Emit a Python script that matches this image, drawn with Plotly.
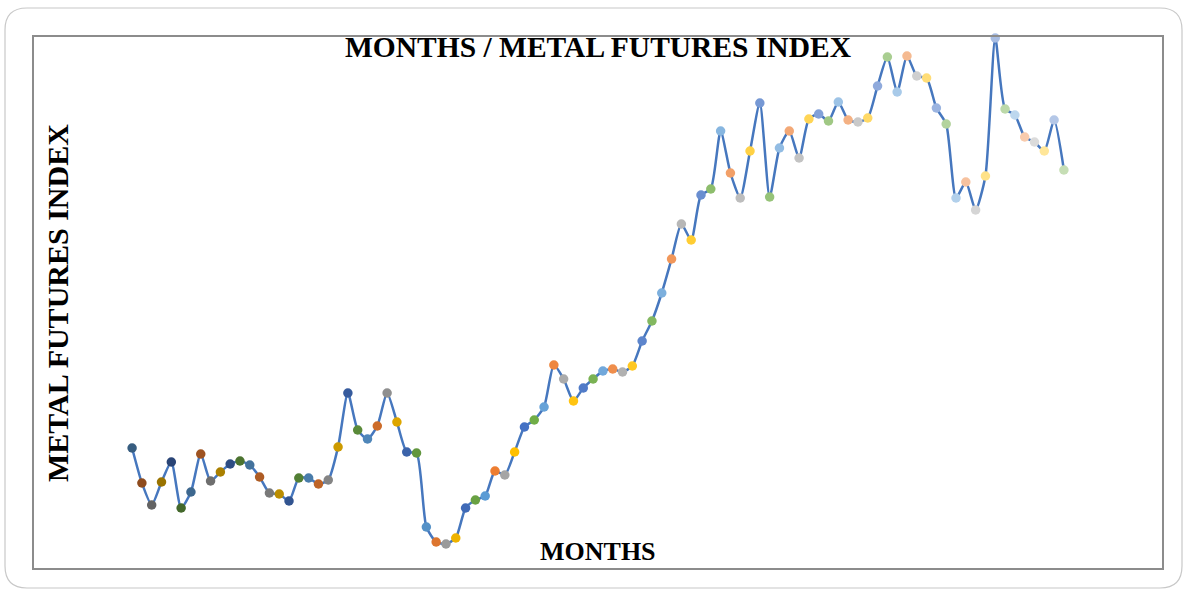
import plotly.graph_objects as go

# ---- data ----
months = list(range(1, 97))
index_values = [
    152, 117, 95, 118, 138, 92, 108, 146, 119, 128,
    136, 139, 135, 123, 107, 106, 99, 122, 122, 116,
    120, 153, 207, 170, 161, 174, 207, 178, 148, 147,
    73, 58, 56, 62, 92, 100, 104, 129, 125, 148,
    173, 180, 193, 235, 221, 199, 212, 221, 229, 231,
    228, 234, 259, 279, 307, 341, 376, 360, 405, 411,
    469, 427, 402, 449, 497, 403, 452, 469, 442, 481,
    486, 479, 498, 480, 478, 482, 514, 543, 508, 544,
    524, 522, 492, 476, 402, 418, 390, 424, 562, 491,
    485, 463, 458, 449, 480, 430,
]
title_text = "MONTHS / METAL FUTURES INDEX"
x_title = "MONTHS"
y_title = "METAL FUTURES INDEX"

# ---- styles ----
palette = ["#5B9BD5", "#ED7D31", "#A5A5A5", "#FFC000", "#4472C4", "#70AD47"]


def hex2rgb(h):
    h = h.lstrip("#")
    return [int(h[i:i + 2], 16) for i in (0, 2, 4)]


def vary(h, t):
    r = hex2rgb(h)
    if t < 0:
        r = [c * (1 + t) for c in r]
    else:
        r = [c + (255 - c) * t for c in r]
    return "rgb(%d,%d,%d)" % tuple(int(round(c)) for c in r)


n_groups = (len(months) + 5) // 6
colors = []
for i in range(len(months)):
    g = i // 6
    t = -0.4 + g * (1.0 / (n_groups - 1))
    colors.append(vary(palette[i % 6], t))

W, H = 1187, 590
L, R, T, B = 34, 25, 37, 22
pw, ph = W - L - R, H - T - B

fig = go.Figure()
fig.add_trace(go.Scatter(
    x=months, y=index_values, mode="lines+markers",
    line=dict(color="#4677BE", width=2.5, shape="spline", smoothing=0.6),
    marker=dict(size=9.5, color=colors, line=dict(width=0)),
    cliponaxis=False, hoverinfo="x+y", showlegend=False,
))

font_family = "Liberation Serif, Times New Roman, serif"


def px_to_paper_x(px):
    return (px - L) / pw


def px_to_paper_y(py):
    return (H - B - py) / ph


# outer rounded chart border
x0, y0, x1, y1, rad = 5, 8, 1182, 588, 22
X0, X1 = px_to_paper_x(x0), px_to_paper_x(x1)
Y0, Y1 = px_to_paper_y(y0), px_to_paper_y(y1)
rx, ry = rad / pw, rad / ph
path = (f"M {X0 + rx},{Y0} L {X1 - rx},{Y0} Q {X1},{Y0} {X1},{Y0 - ry} "
        f"L {X1},{Y1 + ry} Q {X1},{Y1} {X1 - rx},{Y1} "
        f"L {X0 + rx},{Y1} Q {X0},{Y1} {X0},{Y1 + ry} "
        f"L {X0},{Y0 - ry} Q {X0},{Y0} {X0 + rx},{Y0} Z")
fig.add_shape(type="path", path=path, xref="paper", yref="paper",
              line=dict(color="#C8C8C8", width=1.2), layer="below")

fig.add_annotation(text=f"<b>{title_text}</b>", x=0.5, y=px_to_paper_y(47),
                   xref="paper", yref="paper", showarrow=False,
                   xanchor="center", yanchor="middle",
                   font=dict(family=font_family, size=29.5, color="black"))
fig.add_annotation(text=f"<b>{x_title}</b>", x=0.5, y=px_to_paper_y(551),
                   xref="paper", yref="paper", showarrow=False,
                   xanchor="center", yanchor="middle",
                   font=dict(family=font_family, size=26, color="black"))
fig.add_annotation(text=f"<b>{y_title}</b>", x=px_to_paper_x(57), y=px_to_paper_y(303),
                   xref="paper", yref="paper", showarrow=False, textangle=-90,
                   xanchor="center", yanchor="middle",
                   font=dict(family=font_family, size=30, color="black"))

fig.update_xaxes(range=[-9, 106], showgrid=False, zeroline=False, showticklabels=False,
                 ticks="", showline=True, mirror=True, linecolor="#8C8C8C", linewidth=1.5)
fig.update_yaxes(range=[32, 563], showgrid=False, zeroline=False, showticklabels=False,
                 ticks="", showline=True, mirror=True, linecolor="#8C8C8C", linewidth=1.5)

fig.update_layout(
    width=W, height=H, autosize=False,
    margin=dict(l=L, r=R, t=T, b=B, pad=0),
    plot_bgcolor="white", paper_bgcolor="white",
)

fig.write_html("out.html")
